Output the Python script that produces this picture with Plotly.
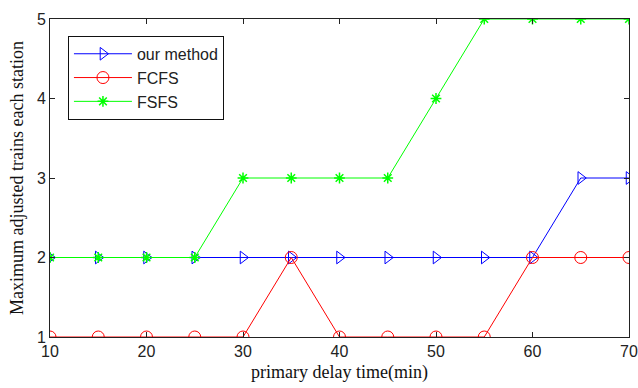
import plotly.graph_objects as go

delay = [10, 15, 20, 25, 30, 35, 40, 45, 50, 55, 60, 65, 70]
our_method = [2, 2, 2, 2, 2, 2, 2, 2, 2, 2, 2, 3, 3]
fcfs = [1, 1, 1, 1, 1, 2, 1, 1, 1, 1, 2, 2, 2]
fsfs = [2, 2, 2, 2, 3, 3, 3, 3, 4, 5, 5, 5, 5]

fig = go.Figure()
fig.add_trace(go.Scatter(
    x=delay, y=our_method, name="our method", mode="lines+markers",
    line=dict(color="#0000ff", width=1),
    marker=dict(symbol="triangle-right-open", size=11, color="#0000ff", line=dict(width=1)),
))
fig.add_trace(go.Scatter(
    x=delay, y=fcfs, name="FCFS", mode="lines+markers",
    line=dict(color="#ff0000", width=1),
    marker=dict(symbol="circle-open", size=12, color="#ff0000", line=dict(width=1)),
))
fig.add_trace(go.Scatter(
    x=delay, y=fsfs, name="FSFS", mode="lines+markers",
    line=dict(color="#00ff00", width=1),
    marker=dict(symbol="asterisk-open", size=9, color="#00ff00", line=dict(width=1.5, color="#00ff00")),
))

axis_common = dict(
    showgrid=False, zeroline=False, showline=True, linecolor="#222222", linewidth=1,
    mirror="ticks", ticks="inside", ticklen=5, tickcolor="#222222", automargin=False,
    tickfont=dict(family="Liberation Sans, Arial, sans-serif", size=16, color="#222222"),
)

fig.update_layout(
    width=638, height=388,
    margin=dict(l=50, r=9, t=19, b=51),
    paper_bgcolor="white", plot_bgcolor="white",
    xaxis=dict(
        range=[10, 70], tickvals=[10, 20, 30, 40, 50, 60, 70],
        title=dict(text="primary delay time(min)", standoff=6,
                   font=dict(family="Liberation Serif, Times New Roman, serif", size=18, color="#111111")),
        **axis_common,
    ),
    yaxis=dict(
        range=[1, 5], tickvals=[1, 2, 3, 4, 5],
        title=dict(text="Maximum adjusted trains each station", standoff=8,
                   font=dict(family="Liberation Serif, Times New Roman, serif", size=18, color="#111111")),
        **axis_common,
    ),
    legend=dict(
        x=0.031, y=0.947, xanchor="left", yanchor="top",
        bgcolor="white", bordercolor="#111111", borderwidth=1,
        font=dict(family="Liberation Sans, Arial, sans-serif", size=16, color="#222222"),
        tracegroupgap=0, itemwidth=58,
    ),
)

fig.write_html("out.html")
